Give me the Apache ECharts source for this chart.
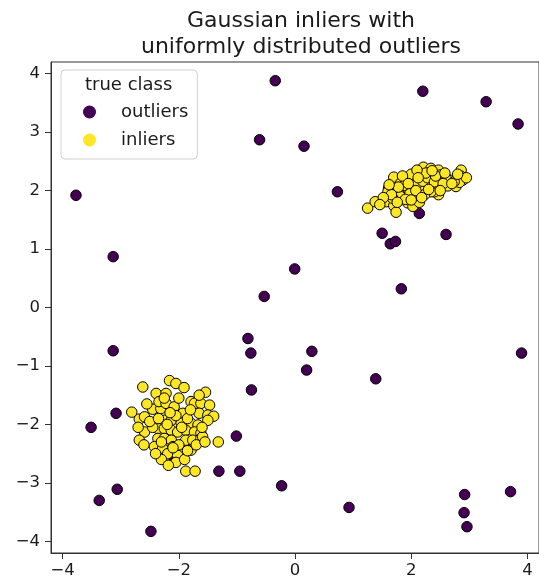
<!DOCTYPE html>
<html>
<head>
<meta charset="utf-8">
<script src="https://cdn.jsdelivr.net/npm/echarts@6/dist/echarts.min.js"></script>
<style>html,body{margin:0;padding:0;background:#fff}#c{width:539px;height:585px}</style>
</head>
<body>
<div id="c"></div>
<script>
const titleLines = ["Gaussian inliers with", "uniformly distributed outliers"];
const legendTitle = "true class";
const classNames = ["outliers", "inliers"];
const tickValues = [-4, -2, 0, 2, 4];
const yTickValues = [-4, -3, -2, -1, 0, 1, 2, 3, 4];

const outliers = [
  [-3.77,1.92],[-0.34,3.88],[2.20,3.70],[3.29,3.52],[3.84,3.14],[-0.61,2.87],[0.155,2.76],
  [0.73,1.98],[2.14,1.61],[1.50,1.27],[1.64,1.09],[1.73,1.13],[2.60,1.25],[-0.005,0.66],
  [-0.53,0.19],[1.83,0.32],[-3.13,0.87],[-3.13,-0.74],[-0.81,-0.53],[-0.76,-0.78],[-0.75,-1.41],
  [-3.51,-2.05],[-3.08,-1.81],[-3.06,-3.11],[-3.37,-3.30],[-2.48,-3.83],[0.29,-0.75],[0.20,-1.07],
  [1.39,-1.22],[3.90,-0.78],[-1.01,-2.20],[-1.31,-2.80],[-0.95,-2.80],[-0.23,-3.05],[0.93,-3.42],
  [2.92,-3.20],[2.91,-3.51],[2.96,-3.75],[3.71,-3.15],[-2.08,-2.63]
];

const inliersUpper = [
  [1.25,1.70],[1.38,1.81],[1.57,1.81],[1.70,1.74],[1.74,1.63],[1.70,2.23],[1.61,2.04],[1.74,1.98],
  [1.82,2.13],[1.84,2.00],[1.81,1.90],[1.94,1.79],[2.03,1.73],[2.01,2.21],[2.14,2.24],[2.21,2.40],
  [2.34,2.38],[2.47,2.35],[2.51,2.27],[2.31,2.30],[2.31,2.11],[2.46,2.09],[2.47,1.93],[2.40,1.98],
  [2.17,2.04],[2.05,1.91],[2.14,1.80],[2.66,2.18],[2.63,2.08],[2.77,2.07],[2.86,2.35],[2.85,2.25],
  [2.89,2.18],[2.83,2.14],[1.94,2.04],[1.68,1.87],[1.60,1.98],[2.05,2.07],[2.34,1.98],[2.60,2.21],
  [2.74,2.15],[2.23,1.93],[2.11,2.13],[1.91,2.18],
  [1.88,2.09],[1.98,1.95],[2.08,2.00],[2.20,2.16],[2.28,2.22],[2.40,2.15],[2.55,2.12],[2.70,2.12],
  [1.78,2.06],[1.66,1.93],[1.52,1.88],[1.46,1.76],[1.90,1.85],[2.00,2.28],[2.25,2.30],[2.42,2.25],
  [2.18,1.88],[2.30,2.02],[1.85,2.25],[2.58,2.30],[1.76,1.80],[2.10,2.35],[2.36,2.34],[2.95,2.22],
  [2.80,2.28],[1.95,2.12],[2.50,2.00],[1.62,2.10],[2.00,1.84],[2.12,2.22]
];

const inliersLower = [
  [-2.62,-1.36],[-2.16,-1.25],[-2.05,-1.30],[-1.91,-1.37],[-2.39,-1.47],[-2.22,-1.47],[-1.54,-1.45],
  [-2.81,-1.79],[-2.68,-1.91],[-2.59,-1.87],[-2.45,-1.74],[-2.31,-1.73],[-2.34,-1.61],[-2.22,-1.64],
  [-2.08,-1.70],[-1.93,-1.81],[-1.79,-1.61],[-1.73,-1.64],[-1.62,-1.64],[-1.47,-1.67],[-1.65,-1.81],
  [-1.50,-1.84],[-1.40,-1.86],[-1.50,-1.93],[-2.25,-1.93],[-2.13,-1.93],[-1.96,-1.98],[-1.79,-1.98],
  [-1.67,-2.01],[-2.36,-2.07],[-2.25,-2.07],[-2.13,-2.10],[-2.02,-2.13],[-1.88,-2.10],[-1.73,-2.13],
  [-1.62,-2.15],[-2.59,-2.13],[-2.68,-2.27],[-2.36,-2.24],[-2.25,-2.24],[-2.13,-2.27],[-1.88,-2.27],
  [-1.76,-2.27],[-1.62,-2.24],[-1.32,-2.30],[-2.42,-2.38],[-2.28,-2.41],[-2.10,-2.38],[-1.96,-2.44],
  [-1.79,-2.44],[-2.19,-2.50],[-2.02,-2.53],[-1.88,-2.80],[-1.72,-2.80],[-1.59,-2.21],
  [-2.05,-1.85],[-1.95,-2.05],[-2.20,-2.00],[-2.30,-2.30],[-2.00,-2.35],[-1.85,-1.90],[-2.15,-1.80],
  [-1.70,-2.35],[-2.45,-2.05],[-2.50,-1.95],[-2.05,-2.65],[-1.90,-2.60],[-2.30,-2.60],[-2.40,-2.50],
  [-1.60,-2.05],[-1.80,-1.75],[-2.00,-1.55],[-2.25,-1.55],[-1.65,-1.50],[-2.55,-1.65],[-2.70,-2.05],
  [-2.35,-1.90],[-2.10,-2.40],[-1.85,-2.45],[-2.18,-2.70],[-1.55,-2.30],[-2.60,-2.35]
];

const inliers = inliersUpper.concat(inliersLower);

const FONT = "DejaVu Sans";
const minus = v => String(v).replace('-', '\u2212');

const chart = echarts.init(document.getElementById('c'), null, {renderer: 'canvas'});
chart.setOption({
  animation: false,
  backgroundColor: '#fff',
  title: {
    text: titleLines.join('\n'),
    left: 296,
    top: 3,
    textAlign: 'center',
    textStyle: {fontFamily: FONT, fontSize: 22, fontWeight: 'normal', color: '#1a1a1a', lineHeight: 26}
  },
  grid: {left: 51, right: 0, top: 62, bottom: 32, show: true, borderColor: '#333', borderWidth: 1, backgroundColor: 'transparent'},
  xAxis: {
    type: 'value', min: -4.2, max: 4.2,
    splitLine: {show: false},
    axisLine: {show: true, onZero: false, lineStyle: {color: '#333', width: 1}},
    axisTick: {show: true, length: 6, lineStyle: {color: '#333'}, customValues: tickValues},
    axisLabel: {customValues: tickValues, formatter: minus, fontFamily: FONT, fontSize: 16.5, color: '#1a1a1a', margin: 9}
  },
  yAxis: {
    type: 'value', min: -4.2, max: 4.2,
    splitLine: {show: false},
    axisLine: {show: true, onZero: false, lineStyle: {color: '#333', width: 1}},
    axisTick: {show: true, length: 6, lineStyle: {color: '#333'}, customValues: yTickValues},
    axisLabel: {customValues: yTickValues, formatter: minus, fontFamily: FONT, fontSize: 16.5, color: '#1a1a1a', margin: 11}
  },
  legend: {
    orient: 'vertical', left: 61, top: 70,
    padding: [33, 9, 10, 22],
    itemGap: 10, itemWidth: 13, itemHeight: 13,
    backgroundColor: '#fff', borderColor: '#d0d0d0', borderWidth: 1, borderRadius: 4,
    textStyle: {fontFamily: FONT, fontSize: 18, color: '#1a1a1a', padding: [0, 0, 0, 20]},
    data: [
      {name: classNames[0], icon: 'circle', itemStyle: {color: '#440154', borderWidth: 0}},
      {name: classNames[1], icon: 'circle', itemStyle: {color: '#fde725', borderWidth: 0}}
    ]
  },
  graphic: [{
    type: 'text', left: 85, top: 76, z: 100,
    style: {text: legendTitle, fontFamily: FONT, fontSize: 18, fill: '#1a1a1a'}
  }],
  series: [
    {name: classNames[0], type: 'scatter', data: outliers, symbolSize: 10.5,
     itemStyle: {color: '#440154', borderColor: '#000', borderWidth: 1, opacity: 1}},
    {name: classNames[1], type: 'scatter', data: inliers, symbolSize: 10.5,
     itemStyle: {color: '#fde725', borderColor: '#000', borderWidth: 1, opacity: 1}}
  ]
});
</script>
</body>
</html>
